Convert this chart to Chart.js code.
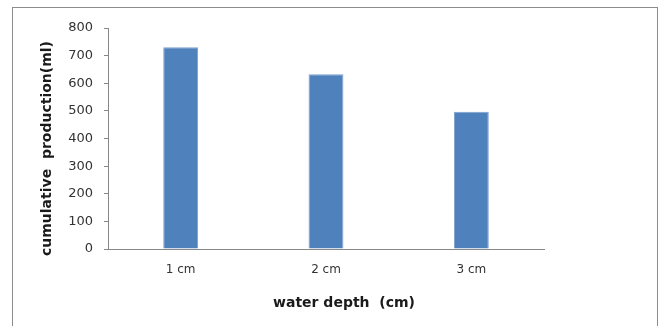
<!DOCTYPE html>
<html><head><meta charset="utf-8">
<script src="https://cdn.jsdelivr.net/npm/chart.js@4"></script>
<style>html,body{margin:0;padding:0;background:#fff;overflow:hidden}#wrap{width:664px;height:326px;position:relative}</style>
</head><body><div id="wrap"><canvas id="c" width="664" height="326"></canvas></div>
<script>
const categories = ['1 cm', '2 cm', '3 cm'];
const production = [730, 633, 497];
const yMin = 0, yMax = 800, yStep = 100;
const xTitle = 'water depth  (cm)';
const yTitle = 'cumulative  production(ml)';

const frameAndTitles = {
  id: 'frameAndTitles',
  beforeDraw(chart) {
    const ctx = chart.ctx;
    ctx.save();
    ctx.fillStyle = '#fff';
    ctx.fillRect(0, 0, chart.width, chart.height);
    ctx.strokeStyle = '#8c8c8c';
    ctx.lineWidth = 1;
    ctx.strokeRect(12.5, 7.5, 645, 400);
    ctx.restore();
  },
  afterDraw(chart) {
    const ctx = chart.ctx;
    const a = chart.chartArea;
    ctx.save();
    ctx.fillStyle = '#1a1a1a';
    ctx.font = 'bold 14px "DejaVu Sans"';
    ctx.textAlign = 'center';
    ctx.textBaseline = 'middle';
    ctx.fillText(xTitle, a.left + (a.right - a.left) / 2 + 18, 303);
    ctx.translate(47, a.top + (a.bottom - a.top) / 2 + 10);
    ctx.rotate(-Math.PI / 2);
    ctx.fillText(yTitle, 0, 0);
    ctx.restore();
  }
};

new Chart(document.getElementById('c'), {
  type: 'bar',
  data: {
    labels: categories,
    datasets: [{
      data: production,
      backgroundColor: '#4f81bd',
      borderColor: '#7ba0cd',
      borderWidth: 1,
      barPercentage: 0.24,
      categoryPercentage: 1
    }]
  },
  options: {
    responsive: false,
    animation: false,
    layout: { padding: { left: 13, right: 120, top: 28, bottom: 0 } },
    plugins: { legend: { display: false }, tooltip: { enabled: false } },
    scales: {
      x: {
        grid: { drawOnChartArea: false, drawTicks: false },
        border: { color: '#888', width: 1 },
        ticks: { color: '#333', font: { family: 'DejaVu Sans', size: 12 }, padding: 14 },
        afterFit: s => { s.height = 77; }
      },
      y: {
        min: yMin, max: yMax,
        grid: { drawOnChartArea: false, drawTicks: true, tickLength: 4, color: '#888' },
        border: { color: '#888', width: 1 },
        ticks: { stepSize: yStep, color: '#333', font: { family: 'DejaVu Sans', size: 13 }, padding: 11 },
        afterFit: s => { s.width = 95; }
      }
    }
  },
  plugins: [frameAndTitles]
});
</script>
</body></html>
